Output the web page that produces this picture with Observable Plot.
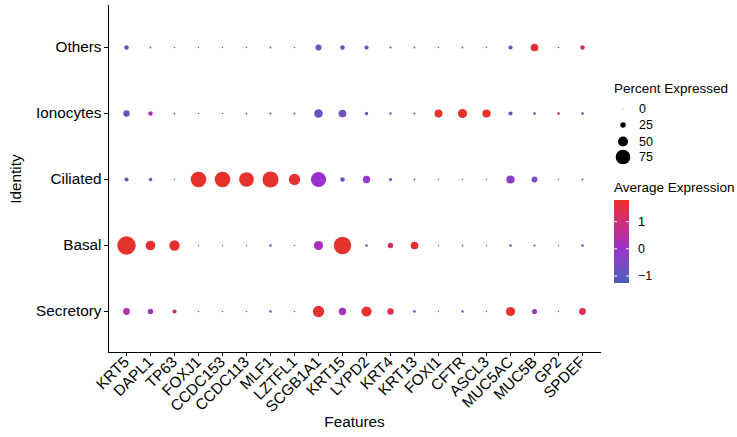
<!DOCTYPE html>
<html>
<head>
<meta charset="utf-8">
<script src="https://cdn.jsdelivr.net/npm/d3@7"></script>
<script src="https://cdn.jsdelivr.net/npm/@observablehq/plot@0.6"></script>
<style>
  html, body { margin: 0; padding: 0; background: #fff; }
  #chart { width: 737px; height: 437px; }
</style>
</head>
<body>
<div id="chart"></div>
<script>
const genes = ["KRT5","DAPL1","TP63","FOXJ1","CCDC153","CCDC113","MLF1","LZTFL1","SCGB1A1","KRT15","LYPD2","KRT4","KRT13","FOXI1","CFTR","ASCL3","MUC5AC","MUC5B","GP2","SPDEF"];
const idents = ["Others","Ionocytes","Ciliated","Basal","Secretory"];

// Percent expressed per identity (gene order as above)
const pctOthers    = [20, 5, 4, 2, 2, 3, 6, 4, 28, 20, 18, 7, 5, 3, 5, 3, 18, 37, 4, 20];
const pctIonocytes = [30, 20, 5, 4, 4, 5, 7, 6, 42, 37, 13, 8, 7, 38, 45, 40, 18, 10, 10, 10];
const pctCiliated  = [18, 15, 3, 80, 80, 75, 83, 57, 78, 20, 35, 12, 5, 3, 4, 3, 40, 27, 3, 6];
const pctBasal     = [96, 48, 52, 2, 2, 2, 8, 4, 45, 90, 9, 25, 37, 2, 5, 2, 9, 7, 2, 9];
const pctSecretory = [32, 25, 18, 4, 4, 4, 9, 4, 57, 35, 51, 30, 10, 2, 8, 2, 45, 23, 2, 32];

// Average (scaled) expression per identity
const expOthers    = [-0.7, -0.4, -0.3, -0.2, -0.2, -0.3, -0.4, -0.3, -0.8, -0.5, -0.5, -0.5, -0.3, -0.3, -0.4, -0.1, -0.5, 1.65, -0.1, 1.1];
const expIonocytes = [-0.8, 0.2, -0.3, -0.3, -0.3, -0.4, -0.3, -0.1, -0.9, -0.7, -0.5, -0.6, -0.4, 1.78, 1.75, 1.78, -0.5, -0.6, 1.7, -0.6];
const expCiliated  = [-0.7, -0.7, -0.5, 1.78, 1.78, 1.78, 1.75, 1.72, 0.0, -0.8, -0.1, -0.6, -0.4, -0.2, -0.3, -0.1, -0.2, -0.6, -0.2, -0.7];
const expBasal     = [1.75, 1.7, 1.7, -0.3, -0.3, -0.3, -0.6, -0.3, 0.2, 1.75, -0.6, 1.2, 1.75, -0.3, -0.4, -0.3, -0.6, -0.6, -0.2, -0.7];
const expSecretory = [0.4, 0.2, 0.9, -0.2, -0.2, -0.2, -0.3, -0.2, 1.7, 0.2, 1.75, 1.5, -0.1, -0.3, -0.5, -0.2, 1.75, 0.1, -0.2, 1.4];

const sizeBreaks = [0, 25, 50, 75];
const colorBreaks = [1, 0, -1];
const colorDomain = [-1.26, 0, 1.8];
const colorRange = ["#4A5CB8", "#9932CC", "#E8322A"];

const rows = [
  ["Others", pctOthers, expOthers],
  ["Ionocytes", pctIonocytes, expIonocytes],
  ["Ciliated", pctCiliated, expCiliated],
  ["Basal", pctBasal, expBasal],
  ["Secretory", pctSecretory, expSecretory]
];
const data = [];
for (const [id, pcts, exps] of rows) {
  genes.forEach((g, i) => data.push({gene: g, ident: id, pct: pcts[i], exp: exps[i]}));
}

const FONT = "'Liberation Sans', Arial, Helvetica, sans-serif";

const plot = Plot.plot({
  width: 737,
  height: 437,
  marginLeft: 108,
  marginRight: 137,
  marginTop: 5,
  marginBottom: 85,
  style: {fontFamily: FONT, fontSize: "15.3px", color: "black", background: "white", overflow: "visible"},
  x: {type: "point", domain: genes, padding: 0.6, label: null},
  y: {type: "point", domain: idents, padding: 0.6, label: null},
  r: {type: "linear", domain: [-5, 100], range: [0, 9.6]},
  color: {type: "linear", domain: colorDomain, range: colorRange, interpolate: "lab"},
  marks: [
    Plot.frame({anchor: "left", stroke: "black", strokeWidth: 1.1}),
    Plot.frame({anchor: "bottom", stroke: "black", strokeWidth: 1.1}),
    Plot.axisX({tickRotate: -45, tickSize: 4, tickPadding: 3, label: "Features", labelAnchor: "center", labelOffset: 74, fontSize: "15.3px"}),
    Plot.axisY({tickSize: 4, tickPadding: 3, label: "Identity", labelAnchor: "center", labelOffset: 98, fontSize: "15.3px"}),
    Plot.dot(data, {x: "gene", y: "ident", r: "pct", fill: "exp", stroke: "none"})
  ]
});

document.getElementById("chart").appendChild(plot);

// Legends built from the plot's own scales
const svg = d3.select(plot);
const rScale = plot.scale("r");
const cScale = plot.scale("color");
const lg = svg.append("g").attr("font-family", FONT).attr("fill", "black").attr("text-anchor", "start");

lg.append("text").attr("x", 614).attr("y", 93).attr("font-size", "13.5px").text("Percent Expressed");
const sizeY = [109, 125, 141.5, 157];
sizeBreaks.forEach((v, i) => {
  lg.append("circle").attr("cx", 623).attr("cy", sizeY[i]).attr("r", rScale.apply(v)).attr("fill", "black");
  lg.append("text").attr("x", 639).attr("y", sizeY[i]).attr("dy", "0.35em").attr("font-size", "12.5px").text(v);
});

lg.append("text").attr("x", 614).attr("y", 192).attr("font-size", "13.5px").text("Average Expression");
const barY = d3.scaleLinear().domain([colorDomain[0], colorDomain[2]]).range([283, 200]);
const defs = svg.append("defs");
const grad = defs.append("linearGradient").attr("id", "cbar").attr("x1", 0).attr("y1", 1).attr("x2", 0).attr("y2", 0);
d3.range(0, 1.0001, 0.05).forEach(t => {
  const v = colorDomain[0] + t * (colorDomain[2] - colorDomain[0]);
  grad.append("stop").attr("offset", t).attr("stop-color", cScale.apply(v));
});
lg.append("rect").attr("x", 614).attr("y", 200).attr("width", 15).attr("height", 83).attr("fill", "url(#cbar)");
colorBreaks.forEach(v => {
  const y = barY(v);
  lg.append("line").attr("x1", 614).attr("x2", 617).attr("y1", y).attr("y2", y).attr("stroke", "white").attr("stroke-width", 1);
  lg.append("line").attr("x1", 626).attr("x2", 629).attr("y1", y).attr("y2", y).attr("stroke", "white").attr("stroke-width", 1);
  lg.append("text").attr("x", 638).attr("y", y).attr("dy", "0.35em").attr("font-size", "12.5px").text(v < 0 ? "\u2212" + Math.abs(v) : v);
});
</script>
</body>
</html>
